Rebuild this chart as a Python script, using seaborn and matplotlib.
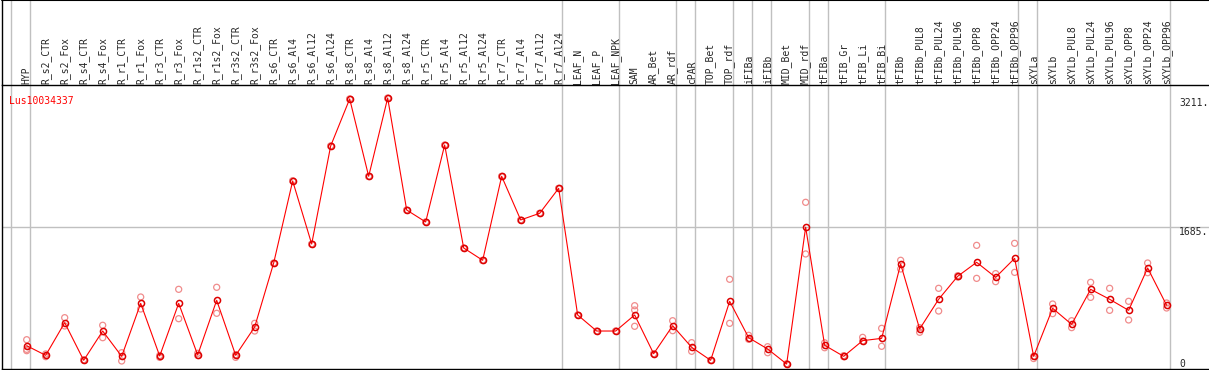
import matplotlib
matplotlib.use("Agg")
import matplotlib.pyplot as plt
from matplotlib.lines import Line2D
import seaborn as sns
import pandas as pd
import numpy as np

gene = "Lus10034337"

samples = ["HYP", "R_s2_CTR", "R_s2_Fox", "R_s4_CTR", "R_s4_Fox", "R_r1_CTR", "R_r1_Fox",
           "R_r3_CTR", "R_r3_Fox", "R_r1s2_CTR", "R_r1s2_Fox", "R_r3s2_CTR", "R_r3s2_Fox",
           "R_s6_CTR", "R_s6_Al4", "R_s6_Al12", "R_s6_Al24", "R_s8_CTR", "R_s8_Al4",
           "R_s8_Al12", "R_s8_Al24", "R_r5_CTR", "R_r5_Al4", "R_r5_Al12", "R_r5_Al24",
           "R_r7_CTR", "R_r7_Al4", "R_r7_Al12", "R_r7_Al24", "LEAF_N", "LEAF_P", "LEAF_NPK",
           "SAM", "AR_Bet", "AR_rdf", "cPAR", "TOP_Bet", "TOP_rdf", "iFIBa", "iFIBb",
           "MID_Bet", "MID_rdf", "tFIBa", "tFIB_Gr", "tFIB_Li", "tFIB_Bi", "tFIBb",
           "tFIBb_PUL8", "tFIBb_PUL24", "tFIBb_PUL96", "tFIBb_OPP8", "tFIBb_OPP24",
           "tFIBb_OPP96", "sXYLa", "sXYLb", "sXYLb_PUL8", "sXYLb_PUL24", "sXYLb_PUL96",
           "sXYLb_OPP8", "sXYLb_OPP24", "sXYLb_OPP96"]

# samples per tissue group (vertical separators)
group_sizes = [1, 28, 3, 3, 1, 2, 1, 1, 2, 1, 3, 7, 1, 7]

mean_expr = [276, 162, 549, 103, 450, 150, 778, 154, 778, 166, 814, 162, 498,
             1256, 2228, 1481, 2643, 3200, 2283, 3211, 1884, 1742, 2654, 1434, 1288,
             2283, 1766, 1845, 2141, 640, 450, 450, 640, 181, 513, 257, 103, 802,
             371, 237, 59, 1680, 281, 150, 336, 363, 1244, 474, 826, 1098, 1264,
             1086, 1311, 150, 719, 529, 944, 826, 695, 1197, 755]

replicates = [[347, 233, 217], [146, 178], [608, 510], [103, 110], [518, 371],
              [193, 95], [853, 711], [138, 160], [944, 596], [186, 160], [968, 660],
              [138, 170], [541, 450], [1256, 1250], [2228, 2230], [1481, 1478],
              [2643, 2640], [3200, 3195], [2283, 2280], [3211, 3205], [1884, 1880],
              [1742, 1740], [2654, 2650], [1434, 1430], [1288, 1285], [2283, 2280],
              [1766, 1762], [1845, 1842], [2141, 2138], [640, 638], [450, 448],
              [450, 448], [750, 699, 506], [181, 178], [572, 454], [312, 210],
              [103, 100], [1063, 541], [399, 352], [264, 193], [59, 62], [1975, 1363],
              [252, 310], [146, 158], [375, 330], [482, 269], [1288, 1185],
              [435, 490], [956, 687], [1090, 1105], [1465, 1074], [1130, 1035],
              [1489, 1145], [124, 150], [770, 656], [572, 490], [1027, 849],
              [956, 695], [802, 581], [1256, 1141], [782, 723]]

ytick_vals = [0, 1685, 3211]

main_df = pd.DataFrame({"idx": np.arange(len(samples)), "value": mean_expr})
rep_rows = [(i, v) for i, reps in enumerate(replicates) for v in reps]
rep_df = pd.DataFrame(rep_rows, columns=["idx", "value"])

sns.set_style("white")
plt.rcParams["font.family"] = ["DejaVu Sans Mono", "DejaVu Sans"]

fig = plt.figure(figsize=(12.09, 3.70), dpi=100)
ax = fig.add_axes([0.0014, 0.0027, 0.9986, 0.7676])

n = len(samples)
# separators between tissue groups
bounds = [-0.8] + list(np.cumsum(group_sizes) - 1 + 0.2)
for b in bounds:
    ax.axvline(b, ymin=0, ymax=1.3, color="#c0c0c0", lw=1, clip_on=False, zorder=0)
ax.axhline(1685, color="#c0c0c0", lw=1, zorder=0)

sns.scatterplot(data=rep_df, x="idx", y="value", ax=ax, marker="o", s=19,
                facecolor="none", edgecolor="#f08c8c", linewidth=0.9, zorder=2)
sns.lineplot(data=main_df, x="idx", y="value", ax=ax, color="red", lw=0.8,
             marker="o", markersize=4.4, markerfacecolor="none",
             markeredgecolor="#dd0000", markeredgewidth=1.1, zorder=3)

ax.set_xlim(-1.316, 62.23)
ax.set_ylim(0, 3365)
ax.set_xlabel("")
ax.set_ylabel("")

ax.set_xticks(range(n))
ax.set_xticklabels(samples, rotation=90, fontsize=7)
ax.tick_params(axis="x", top=True, labeltop=True, bottom=False, labelbottom=False,
               length=0, pad=1)

ax.set_yticks(ytick_vals)
ax.set_yticklabels(["0", "1685.", "3211."], fontsize=7)
ax.tick_params(axis="y", left=False, labelleft=False, right=False, labelright=True,
               length=0, pad=-21.5)
for lab, va in zip(ax.get_yticklabels(), ["bottom", "top", "top"]):
    lab.set_va(va)

for side in ["left", "top", "bottom"]:
    ax.spines[side].set_color("black")
    ax.spines[side].set_linewidth(1)
ax.spines["right"].set_visible(False)

ax.text(0.006, 0.945, gene, transform=ax.transAxes, color="red", fontsize=7,
        ha="left", va="center")

# outer border of the label band
fig.add_artist(Line2D([0.0014, 1], [0.999, 0.999], color="black", lw=1.5))
fig.add_artist(Line2D([0.0014, 0.0014], [0.77, 1], color="black", lw=1))

fig.savefig("out.png", dpi=100)
